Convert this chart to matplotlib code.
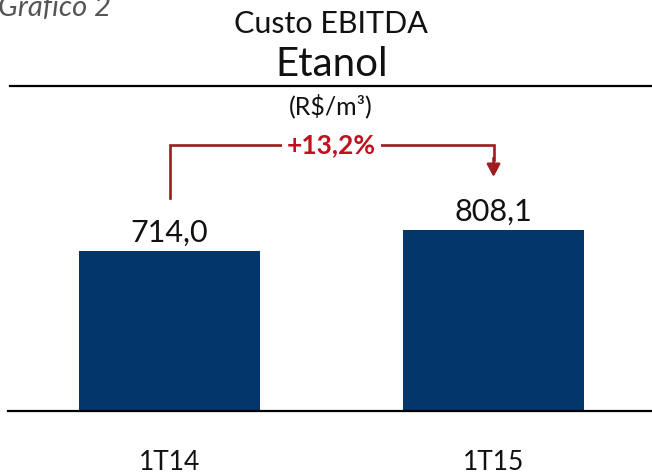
import matplotlib
matplotlib.use("Agg")
import matplotlib.pyplot as plt
from matplotlib.lines import Line2D

categories = ["1T14", "1T15"]
values = [714.0, 808.1]
growth_label = "+13,2%"
title1 = "Custo EBITDA"
title2 = "Etanol"
unit = "(R$/m³)"
caption = "Gráfico 2"

BAR = "#03366A"
RED_LINE = "#9E1B20"
RED_TEXT = "#C0111F"
FONT = "Lato"

W, H = 652, 474
fig = plt.figure(figsize=(W / 100, H / 100), dpi=100)
fig.patch.set_facecolor("white")

def fx(px):
    return px / W

def fy(py):
    return 1 - py / H

# axes: bottom at y=411px, top at y=87px, left 8px, right 652px
ax = fig.add_axes([fx(8), fy(411), fx(644), (411 - 87) / H])
x = list(range(len(categories)))
ax.bar(x, values, width=0.5586, color=BAR, zorder=2)
ymax = values[0] * 324 / 160
ax.set_ylim(0, ymax)
ax.set_xlim(-0.4985, 1.489)
for s in ["top", "left", "right"]:
    ax.spines[s].set_visible(False)
ax.spines["bottom"].set_linewidth(1.6)
ax.spines["bottom"].set_color("black")
ax.set_yticks([])
ax.set_xticks([])
ax.patch.set_alpha(0)

px_per_unit = ymax / 324
for xi, v in zip(x, values):
    ax.text(xi, v + 4 * px_per_unit, f"{v:.1f}".replace(".", ","), ha="center", va="bottom",
            fontsize=22, family=FONT, color="#111111")
    ax.annotate(categories[xi], (xi, 0), xytext=(0, -37), textcoords="offset points",
                ha="center", va="center", fontsize=19, family=FONT, color="#111111",
                annotation_clip=False)

# growth bracket
y_start = values[0] + (251 - 198) * px_per_unit
y_top = values[0] + (251 - 145) * px_per_unit
y_tip = values[0] + (251 - 177) * px_per_unit
y_head = values[0] + (251 - 160) * px_per_unit
ax.plot([0, 0, 1, 1], [y_start, y_top, y_top, y_head], color=RED_LINE, lw=1.9,
        solid_joinstyle="miter", clip_on=False, zorder=3)
ax.annotate("", xy=(1, y_tip), xytext=(1, y_head + 2 * px_per_unit),
            arrowprops=dict(arrowstyle="-|>,head_length=0.75,head_width=0.4",
                            color=RED_LINE, lw=1.9, shrinkA=0, shrinkB=0),
            annotation_clip=False, zorder=3)
ax.text(0.5, y_top, growth_label, ha="center", va="center", fontsize=19,
        fontweight="bold", family=FONT, color=RED_TEXT, zorder=4,
        bbox=dict(boxstyle="square,pad=0.2", fc="white", ec="none"))

# titles
fig.text(fx(331), fy(24), title1, ha="center", va="center", fontsize=22,
         family=FONT, color="#111111")
fig.text(fx(332), fy(65), title2, ha="center", va="center", fontsize=29,
         family=FONT, color="#111111")
fig.text(fx(331), fy(106), unit, ha="center", va="center", fontsize=18,
         family=FONT, color="#111111")
fig.add_artist(Line2D([fx(10), 1.0], [fy(86), fy(86)], color="black", lw=1.6))
fig.text(fx(-2), fy(16), caption, ha="left", va="baseline", fontsize=21,
         family=FONT, style="italic", color="#555555")

fig.savefig("out.png", dpi=100)
